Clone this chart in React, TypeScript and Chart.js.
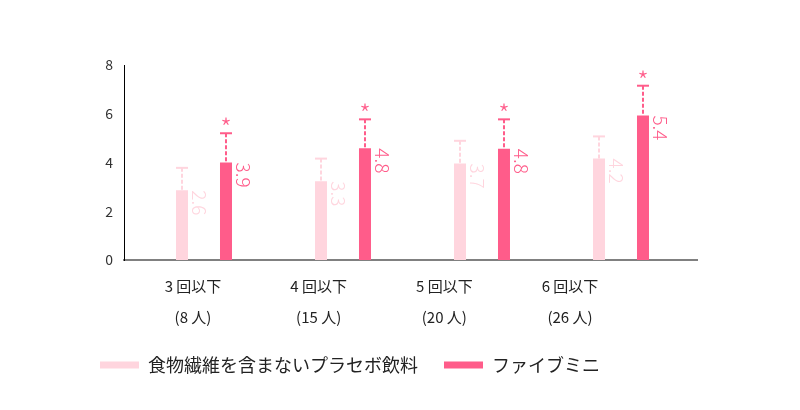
import React, { useEffect, useRef } from "react";
import { Chart, registerables } from "chart.js";

Chart.register(...registerables);

const categories = ["3 回以下", "4 回以下", "5 回以下", "6 回以下"];
const subjects = ["(8 人)", "(15 人)", "(20 人)", "(26 人)"];
const seriesNames = ["食物繊維を含まないプラセボ飲料", "ファイブミニ"];
const placeboValues = [2.86, 3.23, 3.96, 4.16];
const placeboUpper = [3.78, 4.16, 4.89, 5.07];
const placeboLabels = ["2.6", "3.3", "3.7", "4.2"];
const fiberValues = [4.0, 4.58, 4.56, 5.93];
const fiberUpper = [5.2, 5.77, 5.77, 7.15];
const fiberLabels = ["3.9", "4.8", "4.8", "5.4"];
const fiberSignificant = [true, true, true, true];
const yMin = 0;
const yMax = 8;
const yStep = 2;

const PLACEBO = "#FFD5DE";
const FIBER = "#FF5C8A";
const FONT = '"Noto Sans CJK JP", "Noto Sans", sans-serif';

const extras = [
  { upper: placeboUpper, labels: placeboLabels, star: null as boolean[] | null },
  { upper: fiberUpper, labels: fiberLabels, star: fiberSignificant },
];

const overlay = {
  id: "overlay",
  afterDatasetsDraw(chart: any) {
    const ctx = chart.ctx;
    const ys = chart.scales.y;
    chart.data.datasets.forEach((ds: any, di: number) => {
      const meta = chart.getDatasetMeta(di);
      const ext = extras[di];
      const color = ds.backgroundColor;
      meta.data.forEach((bar: any, i: number) => {
        const { x, y: top, width } = bar.getProps(["x", "y", "width"], true);
        const capY = ys.getPixelForValue(ext.upper[i]);
        ctx.save();
        ctx.strokeStyle = color;
        ctx.lineWidth = 2;
        ctx.setLineDash([4, 2]);
        ctx.beginPath();
        ctx.moveTo(x, capY);
        ctx.lineTo(x, top);
        ctx.stroke();
        ctx.setLineDash([]);
        ctx.beginPath();
        ctx.moveTo(x - width / 2, capY);
        ctx.lineTo(x + width / 2, capY);
        ctx.stroke();
        if (ext.star && ext.star[i]) {
          ctx.fillStyle = color;
          ctx.font = `300 26px ${FONT}`;
          ctx.textAlign = "center";
          ctx.textBaseline = "middle";
          ctx.fillText("*", x, capY - 5);
        }
        ctx.translate(x + width / 2 + 4, top);
        ctx.rotate(Math.PI / 2);
        ctx.fillStyle = color;
        ctx.font = `300 19px ${FONT}`;
        ctx.textAlign = "left";
        ctx.textBaseline = "alphabetic";
        ctx.fillText(ext.labels[i], 0, 0);
        ctx.restore();
      });
    });
  },
};

export default function App() {
  const ref = useRef<HTMLCanvasElement | null>(null);
  useEffect(() => {
    if (!ref.current) return;
    Chart.defaults.font.family = FONT;
    const chart = new Chart(ref.current, {
      type: "bar",
      data: {
        datasets: [
          {
            label: seriesNames[0],
            data: placeboValues.map((v, i) => ({ x: i, y: v })),
            backgroundColor: PLACEBO,
            borderColor: PLACEBO,
            borderWidth: 0,
            categoryPercentage: 0.633,
            barPercentage: 0.2727,
          },
          {
            label: seriesNames[1],
            data: fiberValues.map((v, i) => ({ x: i, y: v })),
            backgroundColor: FIBER,
            borderColor: FIBER,
            borderWidth: 0,
            categoryPercentage: 0.633,
            barPercentage: 0.2727,
          },
        ],
      },
      options: {
        animation: false,
        responsive: false,
        maintainAspectRatio: false,
        layout: { padding: { left: 74, right: 103, top: 65, bottom: 26 } },
        plugins: {
          tooltip: { enabled: false },
          legend: {
            position: "bottom",
            align: "start",
            labels: {
              boxWidth: 39,
              boxHeight: 7,
              padding: 26,
              color: "#222",
              font: { size: 18, family: FONT },
            },
          },
        },
        scales: {
          x: {
            type: "linear",
            position: "bottom",
            bounds: "data",
            min: -0.5755,
            max: 3.5468,
            offset: false,
            grid: { display: false, drawTicks: false, offset: false },
            afterBuildTicks: (s: any) => {
              s.ticks = categories.map((_, i) => ({ value: i }));
            },
            ticks: { display: false },
            border: { display: true, color: "#808080", width: 2 },
            afterFit: (s: any) => {
              s.height = 0;
            },
          },
          x2: {
            type: "linear",
            position: "bottom",
            bounds: "data",
            min: -0.549,
            max: 4.0106,
            offset: false,
            grid: { display: false, drawTicks: false, offset: false },
            border: { display: false },
            afterBuildTicks: (s: any) => {
              s.ticks = categories.map((_, i) => ({ value: i }));
            },
            ticks: {
              autoSkip: false,
              maxRotation: 0,
              minRotation: 0,
              padding: 10.5,
              color: "#222",
              font: { size: 15, family: FONT, lineHeight: "31px" },
              callback: (v: any) => [categories[v], subjects[v]],
            },
            afterFit: (s: any) => {
              s.height = 70;
            },
          },
          y: {
            min: yMin,
            max: yMax,
            grid: { display: false, drawTicks: false },
            border: { display: true, color: "#000", width: 1 },
            ticks: {
              stepSize: yStep,
              padding: 11,
              color: "#333",
              font: { size: 14, family: FONT },
            },
            afterFit: (s: any) => {
              s.width = 50;
            },
          },
        },
      },
      plugins: [overlay],
    } as any);
    return () => chart.destroy();
  }, []);
  return (
    <div style={{ position: "fixed", left: 0, top: 0, width: 800, height: 410, background: "#fff" }}>
      <canvas ref={ref} width={800} height={410} style={{ width: 800, height: 410, display: "block" }} />
    </div>
  );
}
